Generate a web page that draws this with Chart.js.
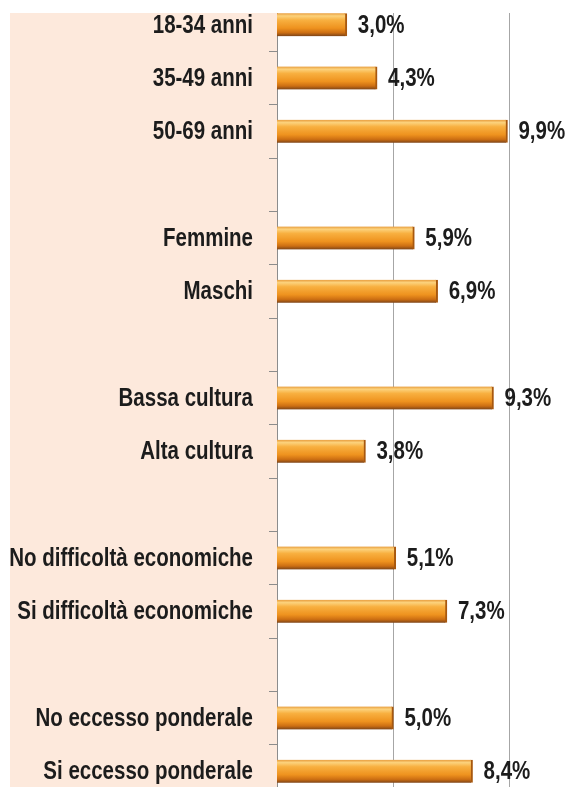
<!DOCTYPE html>
<html>
<head>
<meta charset="utf-8">
<script src="https://cdn.jsdelivr.net/npm/chart.js@4/dist/chart.umd.min.js"></script>
<style>
  html, body { margin: 0; padding: 0; background: #ffffff; overflow: hidden; }
  #clip { position: absolute; left: 0; top: 13px; width: 568px; height: 774px; overflow: hidden; }
  #wrap { position: absolute; left: 0; top: -14.7px; width: 568px; height: 800px; }
</style>
</head>
<body>
<div id="clip"><div id="wrap"><canvas id="c" width="568" height="800"></canvas></div></div>
<script>
const categories = [
  '18-34 anni', '35-49 anni', '50-69 anni', '',
  'Femmine', 'Maschi', '',
  'Bassa cultura', 'Alta cultura', '',
  'No difficoltà economiche', 'Si difficoltà economiche', '',
  'No eccesso ponderale', 'Si eccesso ponderale'
];
const values = [3.0, 4.3, 9.9, null, 5.9, 6.9, null, 9.3, 3.8, null, 5.1, 7.3, null, 5.0, 8.4];
const gridTicks = [5, 10];

const FONT = 'bold 25px "Liberation Sans", Arial, sans-serif';
const NARROW = 0.82;

const peachBg = {
  id: 'peachBg',
  beforeDraw(chart) {
    const c = chart.ctx;
    c.save();
    c.fillStyle = '#fde9dc';
    c.fillRect(10, 0, chart.chartArea.left - 10, chart.height);
    c.restore();
  }
};

const barShade = {
  id: 'barShade',
  beforeDatasetsDraw(chart) {
    const c = chart.ctx;
    const meta = chart.getDatasetMeta(0);
    meta.data.forEach((el) => {
      if (!isFinite(el.y) || !isFinite(el.height)) return;
      const h = el.height;
      const g = c.createLinearGradient(0, el.y - h / 2, 0, el.y + h / 2);
      g.addColorStop(0, '#e89c3c');
      g.addColorStop(0.12, '#fcd27c');
      g.addColorStop(0.3, '#f8b040');
      g.addColorStop(0.65, '#ee921e');
      g.addColorStop(0.85, '#cc6e12');
      g.addColorStop(1, '#7c4418');
      el.options.backgroundColor = g;
    });
  }
};

function narrowText(c, text, x, y, align) {
  c.save();
  c.translate(x, y);
  c.scale(NARROW, 1);
  c.textAlign = align;
  c.fillText(text, 0, 0);
  c.restore();
}

const textLabels = {
  id: 'textLabels',
  afterDatasetsDraw(chart) {
    const c = chart.ctx;
    const ys = chart.scales.y;
    const meta = chart.getDatasetMeta(0);
    c.save();
    c.font = FONT;
    c.fillStyle = '#1c1c1c';
    c.textBaseline = 'middle';
    categories.forEach((lab, i) => {
      if (!lab) return;
      narrowText(c, lab, chart.chartArea.left - 24, ys.getPixelForValue(i) + 1, 'right');
    });
    meta.data.forEach((el, i) => {
      const v = values[i];
      if (v === null) return;
      narrowText(c, v.toFixed(1).replace('.', ',') + '%', el.x + 11, el.y + 1, 'left');
    });
    c.restore();
  }
};

new Chart(document.getElementById('c'), {
  type: 'bar',
  data: {
    labels: categories,
    datasets: [{
      data: values,
      backgroundColor: (ctx) => '#ee9a2a',
      borderColor: '#a8580e',
      borderWidth: { right: 2, left: 0, top: 0, bottom: 0 },
      borderSkipped: false,
      barThickness: 23
    }]
  },
  options: {
    indexAxis: 'y',
    responsive: false,
    animation: false,
    devicePixelRatio: 1,
    layout: { autoPadding: false, padding: 0 },
    plugins: { legend: { display: false }, tooltip: { enabled: false } },
    scales: {
      x: {
        min: 0, max: 12.5,
        afterBuildTicks(scale) { scale.ticks = gridTicks.map(v => ({ value: v })); },
        ticks: { display: false },
        grid: { color: '#a6a6a6', lineWidth: 1, drawTicks: false },
        border: { display: false }
      },
      y: {
        afterFit(scale) { scale.width = 277; },
        ticks: { display: false, autoSkip: false },
        grid: { drawOnChartArea: false, drawTicks: true, tickLength: 8, color: '#8c8c8c', offset: true },
        border: { display: true, color: '#8c8c8c', width: 1 }
      }
    }
  },
  plugins: [peachBg, barShade, textLabels]
});
</script>
</body>
</html>
